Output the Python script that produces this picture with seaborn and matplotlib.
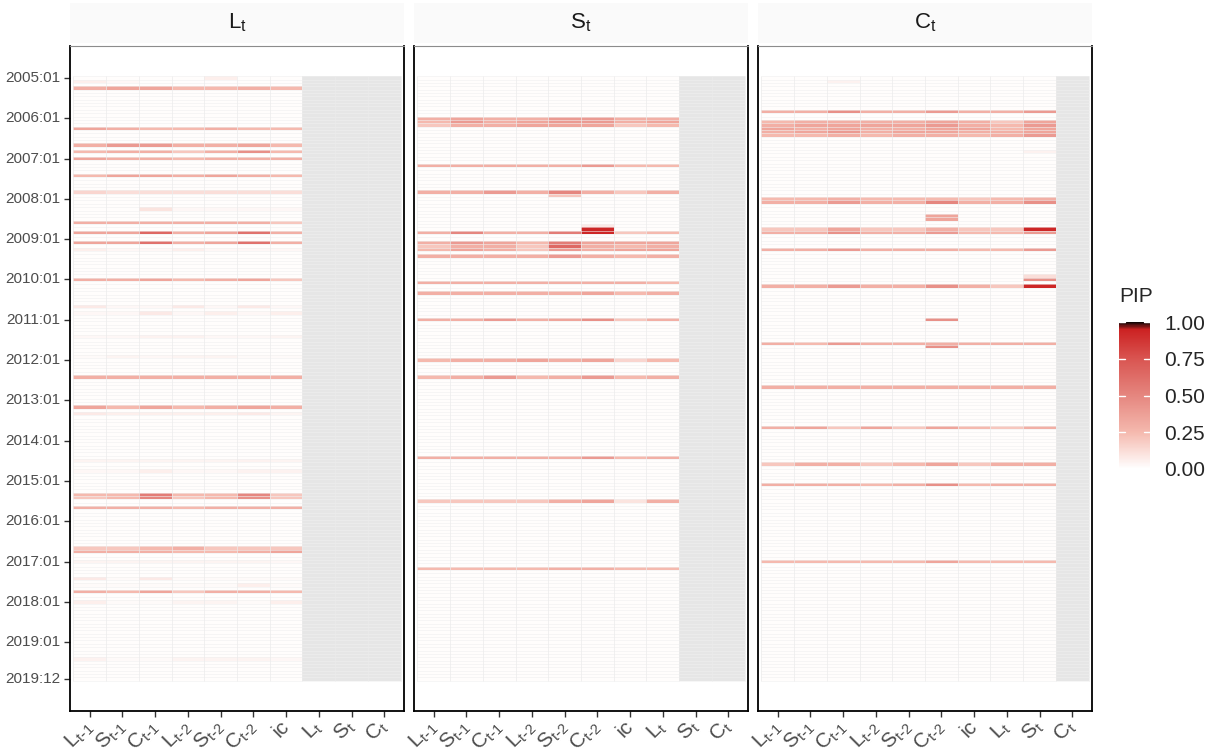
import matplotlib.pyplot as plt
import matplotlib.colors as mcolors
import matplotlib.transforms as mtransforms
import numpy as np
import pandas as pd
import seaborn as sns

# months on the y axis, 2005:01 at the top
months = pd.date_range('2005-01-01', periods=180, freq='MS').strftime('%Y:%m').tolist()
ytick_months = ['2005:01', '2006:01', '2007:01', '2008:01', '2009:01', '2010:01', '2011:01',
                '2012:01', '2013:01', '2014:01', '2015:01', '2016:01', '2017:01', '2018:01',
                '2019:01', '2019:12']

regressors = [r'$\mathregular{L_{t\text{-}1}}$', r'$\mathregular{S_{t\text{-}1}}$',
              r'$\mathregular{C_{t\text{-}1}}$', r'$\mathregular{L_{t\text{-}2}}$',
              r'$\mathregular{S_{t\text{-}2}}$', r'$\mathregular{C_{t\text{-}2}}$',
              'ic', r'$\mathregular{L_t}$', r'$\mathregular{S_t}$', r'$\mathregular{C_t}$']
equations = [r'$\mathregular{L_t}$', r'$\mathregular{S_t}$', r'$\mathregular{C_t}$']
n_free = [7, 8, 9]   # remaining regressors are not in the equation (grey)
baseline = 0.01      # tiny PIP for all months not listed below

# PIP per month for the L_t equation (7 regressors)
pip_L = {
    '2005:01': [0.01, 0.01, 0.01, 0.01, 0.06, 0.01, 0.01],
    '2005:02': [0.06, 0.03, 0.01, 0.01, 0.01, 0.01, 0.01],
    '2005:04': [0.30, 0.35, 0.35, 0.25, 0.25, 0.30, 0.25],
    '2006:04': [0.35, 0.30, 0.25, 0.25, 0.30, 0.25, 0.25],
    '2006:09': [0.30, 0.40, 0.40, 0.30, 0.30, 0.35, 0.25],
    '2006:11': [0.25, 0.30, 0.30, 0.20, 0.30, 0.45, 0.25],
    '2007:01': [0.35, 0.30, 0.30, 0.25, 0.30, 0.30, 0.30],
    '2007:06': [0.25, 0.35, 0.35, 0.30, 0.35, 0.30, 0.25],
    '2007:11': [0.15, 0.12, 0.12, 0.12, 0.12, 0.12, 0.12],
    '2008:04': [0.01, 0.01, 0.10, 0.03, 0.03, 0.03, 0.03],
    '2008:08': [0.30, 0.30, 0.30, 0.30, 0.30, 0.30, 0.20],
    '2008:11': [0.35, 0.35, 0.65, 0.30, 0.35, 0.60, 0.30],
    '2009:02': [0.35, 0.35, 0.60, 0.30, 0.35, 0.60, 0.30],
    '2009:04': [0.06, 0.03, 0.03, 0.06, 0.03, 0.03, 0.03],
    '2010:01': [0.30, 0.30, 0.35, 0.25, 0.30, 0.35, 0.20],
    '2010:09': [0.08, 0.03, 0.03, 0.08, 0.03, 0.08, 0.03],
    '2010:11': [0.03, 0.03, 0.08, 0.03, 0.06, 0.03, 0.06],
    '2011:06': [0.03, 0.03, 0.05, 0.05, 0.03, 0.03, 0.04],
    '2011:12': [0.02, 0.04, 0.03, 0.04, 0.04, 0.02, 0.02],
    '2012:06': [0.30, 0.30, 0.30, 0.30, 0.30, 0.30, 0.30],
    '2013:03': [0.35, 0.25, 0.35, 0.25, 0.30, 0.35, 0.30],
    '2013:05': [0.08, 0.06, 0.06, 0.06, 0.06, 0.08, 0.04],
    '2014:07': [0.04, 0.04, 0.04, 0.04, 0.04, 0.05, 0.04],
    '2014:10': [0.03, 0.03, 0.06, 0.03, 0.03, 0.05, 0.05],
    '2015:05': [0.25, 0.25, 0.55, 0.25, 0.25, 0.50, 0.20],
    '2015:06': [0.20, 0.25, 0.50, 0.20, 0.25, 0.45, 0.20],
    '2015:09': [0.30, 0.30, 0.30, 0.25, 0.30, 0.30, 0.30],
    '2016:09': [0.20, 0.20, 0.25, 0.30, 0.20, 0.20, 0.20],
    '2016:10': [0.30, 0.30, 0.30, 0.25, 0.25, 0.30, 0.35],
    '2017:01': [0.04, 0.04, 0.04, 0.04, 0.04, 0.04, 0.03],
    '2017:06': [0.08, 0.02, 0.08, 0.02, 0.02, 0.02, 0.02],
    '2017:08': [0.02, 0.02, 0.02, 0.02, 0.02, 0.06, 0.02],
    '2017:10': [0.30, 0.25, 0.35, 0.20, 0.30, 0.30, 0.25],
    '2018:01': [0.06, 0.02, 0.02, 0.04, 0.04, 0.02, 0.06],
    '2019:06': [0.05, 0.02, 0.02, 0.04, 0.04, 0.04, 0.03],
}

# PIP per month for the S_t equation (8 regressors)
pip_S = {
    '2006:01': [0.30, 0.35, 0.30, 0.30, 0.40, 0.40, 0.30, 0.30],
    '2006:02': [0.25, 0.40, 0.30, 0.35, 0.40, 0.40, 0.30, 0.35],
    '2006:03': [0.20, 0.30, 0.30, 0.35, 0.35, 0.35, 0.20, 0.25],
    '2007:03': [0.30, 0.30, 0.30, 0.30, 0.30, 0.40, 0.25, 0.25],
    '2007:11': [0.30, 0.30, 0.40, 0.30, 0.50, 0.30, 0.20, 0.30],
    '2007:12': [0.01, 0.01, 0.01, 0.01, 0.20, 0.01, 0.01, 0.01],
    '2008:09': [0.01, 0.01, 0.01, 0.01, 0.01, 0.08, 0.01, 0.01],
    '2008:10': [0.01, 0.01, 0.01, 0.01, 0.01, 0.93, 0.01, 0.01],
    '2008:11': [0.30, 0.50, 0.30, 0.30, 0.55, 0.93, 0.20, 0.25],
    '2009:02': [0.30, 0.40, 0.35, 0.25, 0.55, 0.35, 0.35, 0.35],
    '2009:03': [0.20, 0.30, 0.30, 0.20, 0.65, 0.30, 0.25, 0.30],
    '2009:04': [0.25, 0.35, 0.30, 0.20, 0.40, 0.30, 0.35, 0.35],
    '2009:06': [0.30, 0.30, 0.30, 0.30, 0.40, 0.30, 0.25, 0.30],
    '2010:02': [0.30, 0.30, 0.30, 0.30, 0.30, 0.30, 0.30, 0.25],
    '2010:05': [0.30, 0.30, 0.30, 0.30, 0.30, 0.35, 0.25, 0.30],
    '2011:01': [0.30, 0.30, 0.40, 0.30, 0.35, 0.45, 0.20, 0.30],
    '2012:01': [0.25, 0.30, 0.30, 0.35, 0.30, 0.35, 0.15, 0.25],
    '2012:06': [0.25, 0.30, 0.40, 0.25, 0.30, 0.40, 0.25, 0.30],
    '2014:06': [0.30, 0.30, 0.30, 0.30, 0.30, 0.40, 0.25, 0.30],
    '2015:07': [0.20, 0.20, 0.20, 0.20, 0.30, 0.35, 0.10, 0.30],
    '2017:03': [0.25, 0.25, 0.25, 0.25, 0.30, 0.30, 0.25, 0.25],
}

# PIP per month for the C_t equation (9 regressors)
pip_C = {
    '2005:02': [0.01, 0.01, 0.05, 0.01, 0.01, 0.01, 0.01, 0.01, 0.01],
    '2005:11': [0.30, 0.30, 0.45, 0.30, 0.30, 0.40, 0.30, 0.30, 0.40],
    '2006:02': [0.25, 0.30, 0.30, 0.30, 0.30, 0.35, 0.30, 0.20, 0.35],
    '2006:03': [0.30, 0.35, 0.35, 0.35, 0.35, 0.40, 0.30, 0.25, 0.40],
    '2006:04': [0.35, 0.30, 0.35, 0.30, 0.30, 0.35, 0.35, 0.25, 0.35],
    '2006:05': [0.30, 0.35, 0.40, 0.30, 0.35, 0.35, 0.30, 0.30, 0.35],
    '2006:06': [0.25, 0.25, 0.30, 0.25, 0.30, 0.30, 0.25, 0.30, 0.40],
    '2006:11': [0.01, 0.01, 0.01, 0.01, 0.01, 0.01, 0.01, 0.01, 0.05],
    '2008:01': [0.25, 0.25, 0.30, 0.25, 0.25, 0.25, 0.20, 0.25, 0.30],
    '2008:02': [0.30, 0.30, 0.40, 0.30, 0.30, 0.50, 0.30, 0.30, 0.45],
    '2008:06': [0.01, 0.01, 0.01, 0.01, 0.01, 0.35, 0.01, 0.01, 0.01],
    '2008:07': [0.01, 0.01, 0.01, 0.01, 0.01, 0.35, 0.01, 0.01, 0.01],
    '2008:10': [0.20, 0.20, 0.35, 0.20, 0.20, 0.30, 0.20, 0.20, 0.93],
    '2008:11': [0.30, 0.30, 0.45, 0.30, 0.30, 0.40, 0.25, 0.25, 0.40],
    '2009:04': [0.30, 0.30, 0.40, 0.30, 0.30, 0.30, 0.25, 0.25, 0.40],
    '2009:12': [0.01, 0.01, 0.01, 0.01, 0.01, 0.01, 0.01, 0.01, 0.12],
    '2010:01': [0.01, 0.01, 0.01, 0.01, 0.01, 0.01, 0.01, 0.01, 0.45],
    '2010:03': [0.30, 0.30, 0.40, 0.30, 0.30, 0.45, 0.30, 0.20, 0.93],
    '2011:01': [0.01, 0.01, 0.01, 0.01, 0.01, 0.45, 0.01, 0.01, 0.01],
    '2011:08': [0.30, 0.25, 0.40, 0.30, 0.30, 0.30, 0.30, 0.30, 0.30],
    '2011:09': [0.01, 0.01, 0.01, 0.01, 0.01, 0.45, 0.01, 0.01, 0.01],
    '2012:09': [0.30, 0.30, 0.30, 0.30, 0.30, 0.30, 0.30, 0.30, 0.30],
    '2013:09': [0.30, 0.35, 0.20, 0.35, 0.20, 0.35, 0.25, 0.20, 0.30],
    '2014:08': [0.20, 0.30, 0.30, 0.20, 0.25, 0.35, 0.20, 0.30, 0.30],
    '2015:02': [0.30, 0.30, 0.30, 0.25, 0.30, 0.45, 0.25, 0.30, 0.30],
    '2017:01': [0.25, 0.25, 0.25, 0.25, 0.25, 0.35, 0.25, 0.25, 0.25],
}


def build_frame(pips, n):
    df = pd.DataFrame(np.nan, index=months, columns=range(len(regressors)))
    df.iloc[:, :n] = baseline
    for month, vals in pips.items():
        df.loc[month, list(range(n))] = vals
    return df


sns.set_style('white')
plt.rcParams['font.family'] = ['Liberation Sans', 'DejaVu Sans']

pip_cmap = mcolors.LinearSegmentedColormap.from_list(
    'pip', [(0.0, '#ffffff'), (0.25, '#f5b9ae'), (0.5, '#e5867f'),
            (0.75, '#d95551'), (0.95, '#cc2222'), (1.0, '#140606')])
pip_cmap.set_bad('#e6e6e6')   # regressors not in the equation

fig = plt.figure(figsize=(12.07, 7.56), dpi=100)
W, H = 1207, 756
panel_left = [70, 414, 758]
panel_w = 334
top, bottom = 46, 711
label_shift = mtransforms.ScaledTranslation(0.11, 0, fig.dpi_scale_trans)

for i, (pips, n) in enumerate(zip([pip_L, pip_S, pip_C], n_free)):
    df = build_frame(pips, n)
    ax = fig.add_axes([panel_left[i] / W, 1 - bottom / H, panel_w / W, (bottom - top) / H])
    sns.heatmap(df, ax=ax, cmap=pip_cmap, vmin=0, vmax=1, cbar=False, linewidths=0)
    # faint tile borders
    ax.hlines(np.arange(df.shape[0] + 1), 0, df.shape[1], color='#f0f0f0', lw=0.4)
    ax.vlines(np.arange(df.shape[1] + 1), 0, df.shape[0], color='#ebebeb', lw=0.5)
    ax.set_xlim(-0.1, 10.1)
    ax.set_ylim(189, -9)
    ax.set_xticks(np.arange(10) + 0.5)
    ax.set_xticklabels(regressors, rotation=45, ha='right', va='center',
                       rotation_mode='anchor', fontsize=15, color='#4d4d4d')
    for lab in ax.get_xticklabels():
        lab.set_transform(lab.get_transform() + label_shift)
    if i == 0:
        ax.set_yticks([months.index(m) + 0.5 for m in ytick_months])
        ax.set_yticklabels(ytick_months, fontsize=11, color='#4d4d4d', rotation=0)
        ax.tick_params(axis='y', length=4, width=1, color='#333333', left=True, pad=3)
    else:
        ax.set_yticks([])
    ax.tick_params(axis='x', length=4, width=1, color='#333333', bottom=True, pad=5)
    ax.set_xlabel('')
    ax.set_ylabel('')
    for side in ['left', 'right', 'bottom']:
        ax.spines[side].set_visible(True)
        ax.spines[side].set_color('black')
        ax.spines[side].set_linewidth(1.3)
    ax.spines['top'].set_visible(True)
    ax.spines['top'].set_color('#8c8c8c')
    ax.spines['top'].set_linewidth(0.8)

    # facet strip
    sax = fig.add_axes([panel_left[i] / W, 1 - 43 / H, panel_w / W, 40 / H])
    sax.set_facecolor('#fafafa')
    for s in sax.spines.values():
        s.set_visible(False)
    sax.set_xticks([])
    sax.set_yticks([])
    sax.text(0.5, 0.5, equations[i], ha='center', va='center', fontsize=16,
             color='#1a1a1a', transform=sax.transAxes)

# colour bar legend
cax = fig.add_axes([1119 / W, 1 - 469 / H, 31 / W, 147 / H])
sm = plt.cm.ScalarMappable(cmap=pip_cmap, norm=mcolors.Normalize(0, 1))
cb = fig.colorbar(sm, cax=cax, ticks=[0, 0.25, 0.5, 0.75, 1.0])
cb.outline.set_visible(False)
cb.ax.set_yticklabels(['0.00', '0.25', '0.50', '0.75', '1.00'], fontsize=15)
cb.ax.tick_params(length=0, pad=10)
for v in [0.25, 0.5, 0.75, 1.0]:
    cax.plot([0, 0.2], [v, v], color='white', lw=1)
    cax.plot([0.8, 1], [v, v], color='white', lw=1)
cax.set_xlim(0, 1)
cax.set_ylim(0, 1)
fig.text(1119 / W, 1 - 297 / H, 'PIP', fontsize=15, ha='left', va='center')

fig.savefig('out.png', dpi=100)
